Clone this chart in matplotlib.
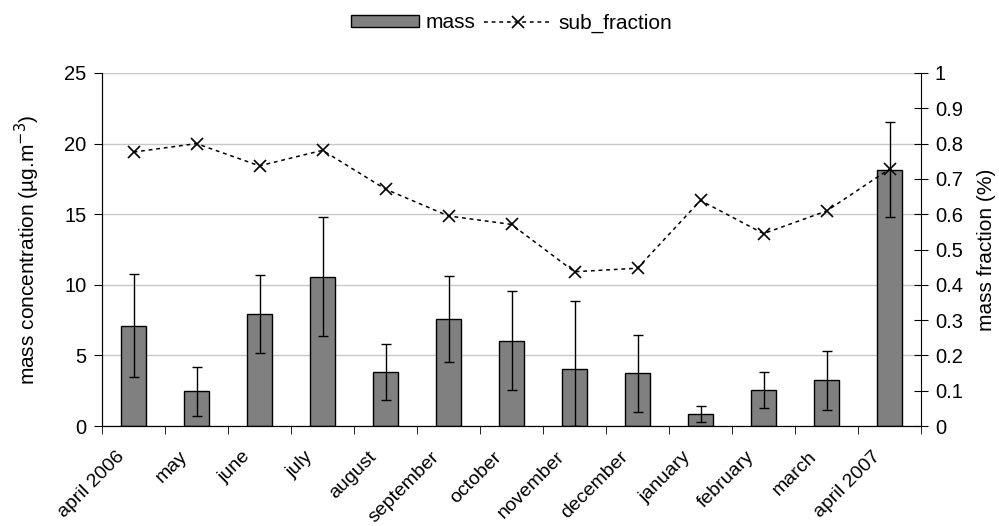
import matplotlib
matplotlib.use("Agg")
import matplotlib.pyplot as plt
import matplotlib.transforms as mtransforms
import numpy as np

plt.rcParams['font.family'] = ['Liberation Sans', 'DejaVu Sans']

# data
months = ["april 2006", "may", "june", "july", "august", "september", "october",
          "november", "december", "january", "february", "march", "april 2007"]
mass = [7.1, 2.46, 7.92, 10.57, 3.83, 7.57, 6.03, 4.07, 3.74, 0.83, 2.55, 3.24, 18.14]
mass_err = [3.65, 1.75, 2.74, 4.2, 2.0, 3.07, 3.5, 4.8, 2.74, 0.57, 1.28, 2.08, 3.36]
sub_fraction = [0.776, 0.800, 0.737, 0.781, 0.671, 0.595, 0.571,
                0.437, 0.447, 0.639, 0.545, 0.609, 0.728]

fig = plt.figure(figsize=(9.99, 5.26), dpi=100)
ax1 = fig.add_axes([102/999, 1-426/526, (921-102)/999, (426-73)/526])
ax2 = ax1.twinx()

x = np.arange(len(months))
ax1.bar(x, mass, width=0.41, color='#808080', edgecolor='black', linewidth=1.0,
        label='mass', zorder=2)
# lower error limit clipped at zero
lo = [min(e, m) for m, e in zip(mass, mass_err)]
ax1.errorbar(x, mass, yerr=[lo, mass_err], fmt='none', ecolor='black',
             elinewidth=1.0, capsize=3.6, capthick=1.0, zorder=3)

ax2.plot(x, sub_fraction, color='black', linestyle=(0, (2.5, 2.5)), linewidth=1.1,
         marker='x', markersize=8, markeredgewidth=1.2, label='sub_fraction')

ax1.set_xlim(-0.5, len(months)-0.5)
ax1.set_ylim(0, 25)
ax2.set_ylim(0, 1)
ax1.set_yticks(np.arange(0, 26, 5))
ax2.set_yticks(np.arange(0, 1.01, 0.1))
ax2.set_yticklabels(["0"] + ["%.1f" % v for v in np.arange(0.1, 0.95, 0.1)] + ["1"])

ax1.yaxis.grid(True, color='#c8c8c8', linewidth=1.0, zorder=0)
ax1.set_axisbelow(True)

ax1.set_xticks(x)
ax1.set_xticklabels(months, rotation=45, ha='right', rotation_mode='anchor')
ax1.tick_params(axis='x', length=0, pad=16, labelsize=14)
shift = mtransforms.ScaledTranslation(-18/100, 0, fig.dpi_scale_trans)
for lab in ax1.get_xticklabels():
    lab.set_transform(lab.get_transform() + shift)
ax1.set_xticks(np.arange(-0.5, len(months), 1), minor=True)
ax1.tick_params(axis='x', which='minor', length=6, direction='out')
ax1.tick_params(axis='y', length=6, direction='out', labelsize=14.5, pad=5)
ax2.tick_params(axis='y', length=10, direction='inout', labelsize=14.5, pad=5)

for ax in (ax1, ax2):
    ax.spines['top'].set_visible(False)
    ax.spines['left'].set_color('black')
    ax.spines['bottom'].set_color('black')
ax1.spines['right'].set_visible(False)

ax1.set_ylabel(r'mass concentration (µg.m$^{-3}$)', fontsize=15, labelpad=16)
ax2.set_ylabel('mass fraction (%)', fontsize=15, labelpad=10)

h1, l1 = ax1.get_legend_handles_labels()
h2, l2 = ax2.get_legend_handles_labels()
fig.legend(h1 + h2, l1 + l2, loc='upper center', bbox_to_anchor=(0.512, 1.01),
           ncol=2, frameon=False, fontsize=15, handlelength=3.3, handleheight=0.55,
           columnspacing=0.4, handletextpad=0.3)

fig.savefig("out.png", dpi=100)
